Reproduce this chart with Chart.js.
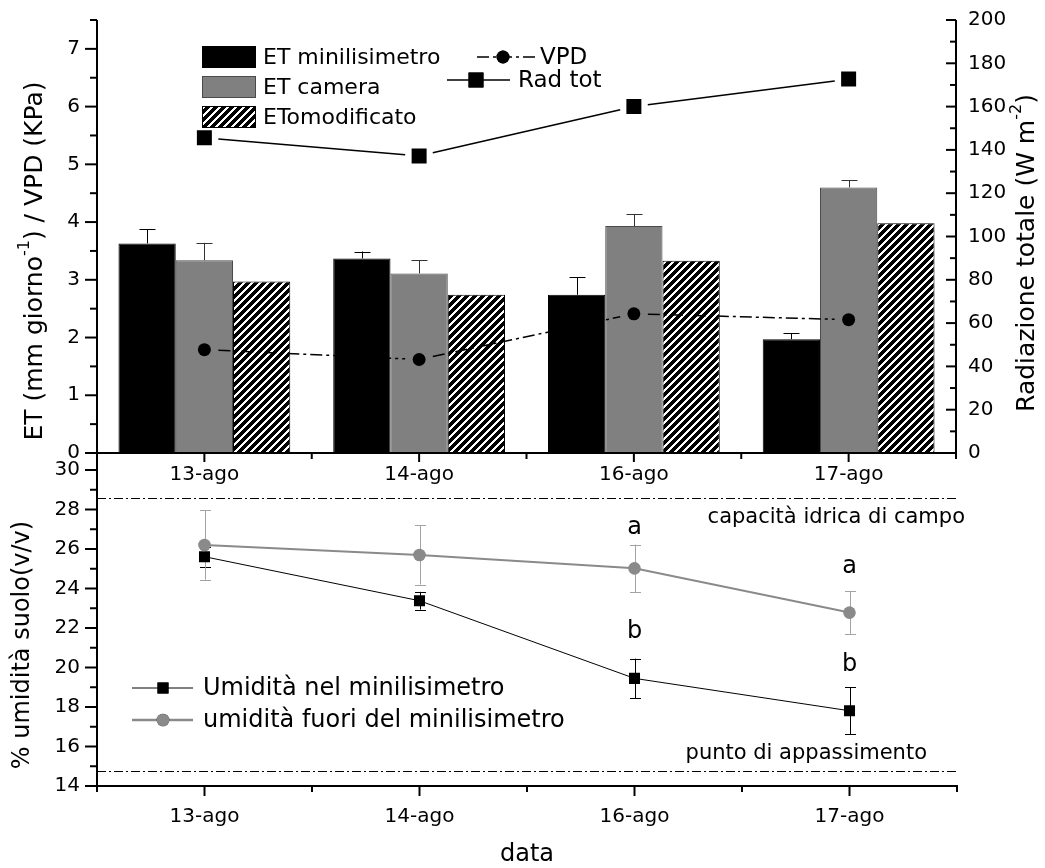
<!DOCTYPE html>
<html>
<head>
<meta charset="utf-8">
<title>ET e umidità del suolo</title>
<script src="https://cdn.jsdelivr.net/npm/chart.js@4.4.1/dist/chart.umd.min.js"></script>
<style>
  html, body { margin: 0; padding: 0; background: #fff; }
  #wrap { position: relative; width: 1045px; height: 868px; overflow: hidden; }
  #topChart { position: absolute; left: 0; top: 0; }
  #bottomChart { position: absolute; left: 0; top: 453px; }
</style>
</head>
<body>
<div id="wrap">
  <canvas id="topChart" width="1045" height="495"></canvas>
  <canvas id="bottomChart" width="1045" height="415"></canvas>
</div>
<script>
const categories = ['13-ago', '14-ago', '16-ago', '17-ago'];

// upper panel: ET (mm/giorno), VPD (KPa) on the left axis, radiation on the right
const etMinilisimetro = [3.63, 3.37, 2.74, 1.97];
const etMinilisimetroErr = [0.25, 0.12, 0.30, 0.10];
const etCamera = [3.34, 3.11, 3.93, 4.60];
const etCameraErr = [0.30, 0.23, 0.21, 0.12];
const etoModificato = [2.97, 2.74, 3.33, 3.98];
const vpd = [1.79, 1.62, 2.41, 2.31];
const radTot = [145.6, 137.2, 160.0, 172.7];

// lower panel: soil moisture % (v/v)
const umiditaNel = [25.61, 23.38, 19.45, 17.81];
const umiditaNelErr = [0.50, 0.45, 1.00, 1.18];
const umiditaFuori = [26.20, 25.70, 25.02, 22.78];
const umiditaFuoriErr = [1.75, 1.50, 1.20, 1.08];

const letterText = ['a', 'a', 'b', 'b'];
const letterIndex = [2, 3, 2, 3];
const letterValue = [27.05, 25.10, 21.80, 20.15];

const fieldCapacity = 28.6;
const wiltingPoint = 14.75;

const FONT = '"DejaVu Sans", "Liberation Sans", sans-serif';
Chart.defaults.font.family = FONT;
Chart.defaults.color = '#000';

function makeHatch(ctx) {
  const size = 8;
  const tile = document.createElement('canvas');
  tile.width = size;
  tile.height = size;
  const g = tile.getContext('2d');
  const img = g.createImageData(size, size);
  for (let y = 0; y < size; y++) {
    for (let x = 0; x < size; x++) {
      const i = (y * size + x) * 4;
      const v = (x + y) % size < 5 ? 0 : 255;
      img.data[i] = img.data[i + 1] = img.data[i + 2] = v;
      img.data[i + 3] = 255;
    }
  }
  g.putImageData(img, 0, 0);
  return ctx.createPattern(tile, 'repeat');
}

function strokeLine(ctx, x1, y1, x2, y2) {
  ctx.beginPath();
  ctx.moveTo(x1, y1);
  ctx.lineTo(x2, y2);
  ctx.stroke();
}

// fixed axis box sizes so the plot areas line up with each other
function fixWidth(w) {
  return (s) => { s.width = w; s.paddingTop = 0; s.paddingBottom = 0; };
}
function fixHeight(h) {
  return (s) => { s.height = h; s.paddingLeft = 0; s.paddingRight = 0; };
}

function drawRichText(ctx, parts, x, y, size, rotation) {
  ctx.save();
  ctx.translate(x, y);
  ctx.rotate(rotation);
  const fontFor = (p) => `${p.sup ? Math.round(size * 0.62) : size}px ${FONT}`;
  let total = 0;
  parts.forEach((p) => { ctx.font = fontFor(p); total += ctx.measureText(p.text).width; });
  let cx = -total / 2;
  ctx.textAlign = 'left';
  ctx.textBaseline = 'middle';
  ctx.fillStyle = '#000';
  parts.forEach((p) => {
    ctx.font = fontFor(p);
    ctx.fillText(p.text, cx, p.sup ? -size * 0.42 : 0);
    cx += ctx.measureText(p.text).width;
  });
  ctx.restore();
}

function drawMarker(ctx, style, x, y, radius, color) {
  Chart.helpers.drawPoint(ctx, { pointStyle: style, radius, rotation: 0, borderWidth: 0 }, x, y);
  ctx.fillStyle = color;
  ctx.fill();
}

const errorBars = {
  id: 'errorBars',
  beforeDatasetsDraw(chart) {
    const { ctx } = chart;
    ctx.save();
    ctx.lineWidth = 1;
    chart.data.datasets.forEach((ds, di) => {
      if (!ds.errors) return;
      const meta = chart.getDatasetMeta(di);
      const scale = chart.scales[meta.yAxisID];
      const cap = ds.errCap / 2;
      ctx.strokeStyle = ds.errColor;
      meta.data.forEach((el, i) => {
        const x = Math.round(el.x) + 0.5;
        const hi = scale.getPixelForValue(ds.data[i] + ds.errors[i]);
        const lo = ds.errUpOnly ? scale.getPixelForValue(ds.data[i]) : scale.getPixelForValue(ds.data[i] - ds.errors[i]);
        strokeLine(ctx, x, lo, x, hi);
        strokeLine(ctx, x - cap, Math.round(hi) + 0.5, x + cap, Math.round(hi) + 0.5);
        if (!ds.errUpOnly) strokeLine(ctx, x - cap, Math.round(lo) + 0.5, x + cap, Math.round(lo) + 0.5);
      });
    });
    ctx.restore();
  },
};

// Origin style connecting lines that stop short of the markers
const gappedLines = {
  id: 'gappedLines',
  afterDatasetsDraw(chart) {
    const { ctx } = chart;
    ctx.save();
    chart.data.datasets.forEach((ds, di) => {
      if (!ds.linkGap) return;
      const pts = chart.getDatasetMeta(di).data;
      ctx.strokeStyle = ds.borderColor;
      ctx.lineWidth = ds.linkWidth;
      ctx.setLineDash(ds.linkDash);
      for (let i = 1; i < pts.length; i++) {
        const dx = pts[i].x - pts[i - 1].x;
        const dy = pts[i].y - pts[i - 1].y;
        const len = Math.hypot(dx, dy);
        const ux = dx / len;
        const uy = dy / len;
        strokeLine(ctx,
          pts[i - 1].x + ux * ds.linkGap, pts[i - 1].y + uy * ds.linkGap,
          pts[i].x - ux * ds.linkGap, pts[i].y - uy * ds.linkGap);
      }
    });
    ctx.restore();
  },
};

const topFrame = {
  id: 'topFrame',
  afterDraw(chart) {
    const { ctx, chartArea: a, scales } = chart;
    const ds = chart.data.datasets;
    ctx.save();
    ctx.strokeStyle = '#000';
    ctx.lineWidth = 2;
    strokeLine(ctx, a.left, a.top, a.left, a.bottom + 1);
    strokeLine(ctx, a.right, a.top, a.right, a.bottom + 1);
    strokeLine(ctx, a.left - 1, a.bottom, a.right + 1, a.bottom);
    for (let v = 0; v <= 7.5; v += 0.5) {
      const y = scales.y.getPixelForValue(v);
      strokeLine(ctx, a.left - (v % 1 === 0 ? 12 : 7), y, a.left, y);
    }
    for (let v = 0; v <= 200; v += 10) {
      const y = scales.y1.getPixelForValue(v);
      strokeLine(ctx, a.right - (v % 20 === 0 ? 10 : 6), y, a.right, y);
    }
    for (let i = 0; i <= categories.length; i++) {
      const x = scales.x.getPixelForValue(i - 0.5);
      strokeLine(ctx, x, a.bottom, x, a.bottom + 6);
      if (i < categories.length) {
        const xc = scales.x.getPixelForValue(i);
        strokeLine(ctx, xc, a.bottom, xc, a.bottom + 9);
      }
    }

    // legend, bars
    ctx.lineWidth = 1;
    ctx.font = `22px ${FONT}`;
    ctx.textBaseline = 'middle';
    ctx.textAlign = 'left';
    [2, 3, 4].forEach((di, row) => {
      const y = 57 + row * 30;
      ctx.fillStyle = ds[di].backgroundColor;
      ctx.fillRect(202, y - 11, 54, 22);
      ctx.strokeStyle = ds[di].borderColor;
      ctx.strokeRect(202.5, y - 10.5, 53, 21);
      ctx.fillStyle = '#000';
      ctx.fillText(ds[di].label, 263, y + 1);
    });

    // legend, lines
    ctx.strokeStyle = '#000';
    ctx.lineWidth = 1.5;
    ctx.setLineDash(ds[0].linkDash);
    strokeLine(ctx, 477, 57, 537, 57);
    ctx.setLineDash([]);
    drawMarker(ctx, ds[0].pointStyle, 503, 57, ds[0].pointRadius, '#000');
    strokeLine(ctx, 447, 80, 510, 80);
    drawMarker(ctx, ds[1].pointStyle, 476, 80, ds[1].pointRadius, '#000');
    ctx.fillStyle = '#000';
    ctx.font = `23px ${FONT}`;
    ctx.fillText(ds[0].label, 540, 58);
    ctx.fillText(ds[1].label, 518, 81);

    drawRichText(ctx, [{ text: 'ET (mm giorno' }, { text: '-1', sup: true }, { text: ') / VPD (KPa)' }],
      35, 261, 25, -Math.PI / 2);
    drawRichText(ctx, [{ text: 'Radiazione totale (W m' }, { text: '-2', sup: true }, { text: ')' }],
      1027, 253, 25, -Math.PI / 2);
    ctx.restore();
  },
};

const bottomFrame = {
  id: 'bottomFrame',
  beforeDatasetsDraw(chart) {
    const { ctx, chartArea: a, scales } = chart;
    ctx.save();
    ctx.strokeStyle = '#000';
    ctx.lineWidth = 1.2;
    ctx.setLineDash([9, 3, 2, 3]);
    [fieldCapacity, wiltingPoint].forEach((v) => {
      const y = Math.round(scales.y.getPixelForValue(v)) + 0.5;
      strokeLine(ctx, a.left, y, a.right, y);
    });
    ctx.restore();
  },
  afterDraw(chart) {
    const { ctx, chartArea: a, scales } = chart;
    const ds = chart.data.datasets;
    ctx.save();
    ctx.strokeStyle = '#000';
    ctx.lineWidth = 2;
    strokeLine(ctx, a.left, 0, a.left, a.bottom + 1);
    strokeLine(ctx, a.left - 1, a.bottom, a.right + 1, a.bottom);
    for (let v = 14; v <= 30; v += 1) {
      const y = scales.y.getPixelForValue(v);
      strokeLine(ctx, a.left - (v % 2 === 0 ? 12 : 7), y, a.left, y);
    }
    for (let i = 0; i <= categories.length; i++) {
      const x = scales.x.getPixelForValue(i - 0.5);
      strokeLine(ctx, x, a.bottom, x, a.bottom + 6);
      if (i < categories.length) {
        const xc = scales.x.getPixelForValue(i);
        strokeLine(ctx, xc, a.bottom, xc, a.bottom + 10);
      }
    }

    ctx.fillStyle = '#000';
    ctx.textBaseline = 'middle';
    ctx.font = `21px ${FONT}`;
    ctx.textAlign = 'right';
    ctx.fillText('capacità idrica di campo', a.right + 8, scales.y.getPixelForValue(fieldCapacity) + 20);
    ctx.fillText('punto di appassimento', a.right - 30, scales.y.getPixelForValue(wiltingPoint) - 18);

    ctx.font = `24px ${FONT}`;
    ctx.textAlign = 'center';
    letterText.forEach((t, i) => {
      ctx.fillText(t, scales.x.getPixelForValue(letterIndex[i]), scales.y.getPixelForValue(letterValue[i]));
    });

    // legend
    ctx.textAlign = 'left';
    ds.forEach((d, row) => {
      const y = 235 + row * 32;
      ctx.strokeStyle = d.borderColor;
      ctx.lineWidth = row === 0 ? 1 : 2.5;
      strokeLine(ctx, 132, y, 193, y);
      drawMarker(ctx, d.pointStyle, 163, y, d.pointRadius, d.pointBackgroundColor);
      ctx.fillStyle = '#000';
      ctx.fillText(d.label, 203, y + 1);
    });

    drawRichText(ctx, [{ text: '% umidità suolo(v/v)' }], 23, 192, 24, -Math.PI / 2);
    drawRichText(ctx, [{ text: 'data' }], (a.left + a.right) / 2, 402, 24, 0);
    ctx.restore();
  },
};

const topCanvas = document.getElementById('topChart');
const hatch = makeHatch(topCanvas.getContext('2d'));
const tickFont = { size: 20, family: FONT };

new Chart(topCanvas, {
  type: 'bar',
  data: {
    labels: categories,
    datasets: [
      {
        type: 'line', label: 'VPD', data: vpd, yAxisID: 'y', order: 0,
        showLine: false, borderColor: '#000', pointStyle: 'circle', pointRadius: 6.5,
        pointBackgroundColor: '#000', pointBorderWidth: 0,
        linkGap: 14, linkDash: [12, 4, 3, 4], linkWidth: 1.5,
      },
      {
        type: 'line', label: 'Rad tot', data: radTot, yAxisID: 'y1', order: 0,
        showLine: false, borderColor: '#000', pointStyle: 'rect', pointRadius: 10.6,
        pointBackgroundColor: '#000', pointBorderWidth: 0,
        linkGap: 14, linkDash: [], linkWidth: 1.5,
      },
      {
        label: 'ET minilisimetro', data: etMinilisimetro, yAxisID: 'y', order: 1,
        backgroundColor: '#000', borderColor: '#000', borderWidth: 1,
        errors: etMinilisimetroErr, errColor: '#000', errCap: 16, errUpOnly: true,
      },
      {
        label: 'ET camera', data: etCamera, yAxisID: 'y', order: 1,
        backgroundColor: '#808080', borderColor: '#4a4a4a', borderWidth: 1,
        errors: etCameraErr, errColor: '#333', errCap: 16, errUpOnly: true,
      },
      {
        label: 'ETomodificato', data: etoModificato, yAxisID: 'y', order: 1,
        backgroundColor: hatch, borderColor: '#000', borderWidth: 1,
      },
    ],
  },
  options: {
    responsive: false,
    animation: false,
    devicePixelRatio: 1,
    events: [],
    categoryPercentage: 0.8,
    barPercentage: 1.0,
    layout: { padding: { top: 20, left: 0, right: 0, bottom: 0 } },
    plugins: { legend: { display: false }, tooltip: { enabled: false } },
    scales: {
      x: {
        type: 'category', offset: true,
        grid: { display: false, drawTicks: false }, border: { display: false },
        ticks: { font: tickFont, color: '#000', padding: 10, maxRotation: 0, autoSkip: false },
        afterFit: fixHeight(42),
      },
      y: {
        position: 'left', min: 0, max: 7.5,
        grid: { display: false, drawTicks: false }, border: { display: false },
        ticks: { stepSize: 1, includeBounds: false, font: tickFont, color: '#000', padding: 17 },
        afterFit: fixWidth(97),
      },
      y1: {
        position: 'right', min: 0, max: 200,
        grid: { display: false, drawTicks: false }, border: { display: false },
        ticks: { stepSize: 20, font: tickFont, color: '#000', padding: 12 },
        afterFit: fixWidth(89),
      },
    },
  },
  plugins: [errorBars, gappedLines, topFrame],
});

new Chart(document.getElementById('bottomChart'), {
  type: 'line',
  data: {
    labels: categories,
    datasets: [
      {
        label: 'Umidità nel minilisimetro', data: umiditaNel, order: 1,
        borderColor: '#000', borderWidth: 1, pointStyle: 'rect', pointRadius: 7.8,
        pointBackgroundColor: '#000', pointBorderWidth: 0,
        errors: umiditaNelErr, errColor: '#000', errCap: 11,
      },
      {
        label: 'umidità fuori del minilisimetro', data: umiditaFuori, order: 0,
        borderColor: '#8a8a8a', borderWidth: 2, pointStyle: 'circle', pointRadius: 6.3,
        pointBackgroundColor: '#8a8a8a', pointBorderWidth: 0,
        errors: umiditaFuoriErr, errColor: '#a3a3a3', errCap: 11,
      },
    ],
  },
  options: {
    responsive: false,
    animation: false,
    devicePixelRatio: 1,
    events: [],
    layout: { padding: { top: 17, left: 0, right: 88, bottom: 0 } },
    plugins: { legend: { display: false }, tooltip: { enabled: false } },
    elements: { line: { tension: 0 } },
    scales: {
      x: {
        type: 'category', offset: true,
        grid: { display: false, drawTicks: false }, border: { display: false },
        ticks: { font: tickFont, color: '#000', padding: 19, maxRotation: 0, autoSkip: false },
        afterFit: fixHeight(82),
      },
      y: {
        min: 14, max: 30,
        grid: { display: false, drawTicks: false }, border: { display: false },
        ticks: { stepSize: 2, font: tickFont, color: '#000', padding: 17 },
        afterFit: fixWidth(97),
      },
    },
  },
  plugins: [errorBars, bottomFrame],
});
</script>
</body>
</html>
